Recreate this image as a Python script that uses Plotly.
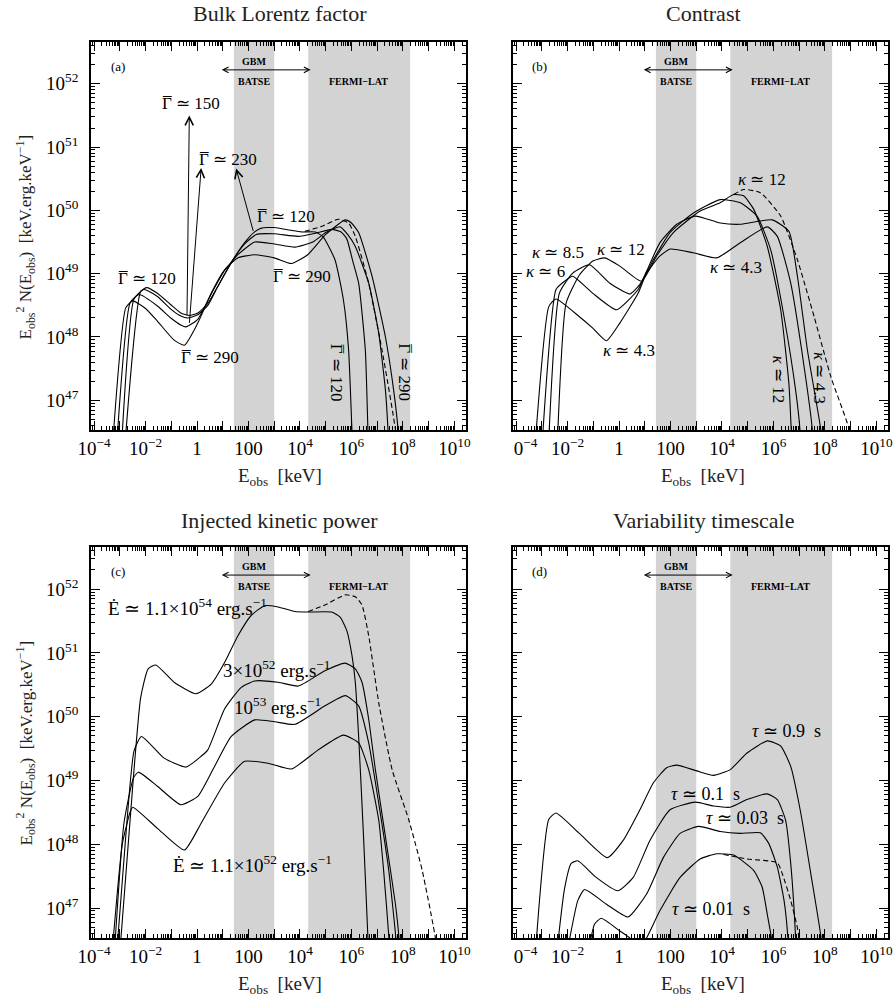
import numpy as np
import plotly.graph_objs as go

FONT = "Liberation Serif"

# every curve is given as log10(E_obs / keV) and log10(E^2 N(E) / keV.erg.keV^-1)

# (a) bulk Lorentz factor
gam120_x = [-2.80, -2.19, -1.95, -1.54, -1.02, -0.63, -0.30, 0.03, 0.42, 0.81, 1.33, 1.85, 2.24, 2.50, 3.0, 3.6, 4.06, 4.6, 4.9, 5.36, 5.69, 5.89, 6.02, 6.05]
gam120_y = [46.3, 48.72, 48.78, 48.69, 48.51, 48.38, 48.34, 48.38, 48.53, 48.80, 49.17, 49.49, 49.66, 49.72, 49.73, 49.69, 49.66, 49.66, 49.58, 49.22, 48.58, 47.79, 46.53, 46.3]
gam150_x = [-2.93, -2.45, -2.06, -1.54, -1.02, -0.63, -0.36, 0.03, 0.42, 0.81, 1.33, 1.85, 2.30, 3.0, 3.93, 4.6, 5.23, 5.6, 5.82, 6.05, 6.28, 6.54, 6.64, 6.66]
gam150_y = [46.3, 48.60, 48.75, 48.64, 48.44, 48.33, 48.30, 48.35, 48.50, 48.80, 49.18, 49.47, 49.62, 49.63, 49.59, 49.64, 49.70, 49.66, 49.55, 49.2, 48.85, 47.79, 46.53, 46.3]
gam230_x = [-3.12, -2.60, -2.25, -1.54, -1.02, -0.63, -0.43, 0.03, 0.55, 1.07, 1.59, 2.24, 3.0, 3.80, 4.5, 5.0, 5.56, 5.85, 6.15, 6.67, 7.06, 7.32, 7.42, 7.44]
gam230_y = [46.3, 48.54, 48.67, 48.49, 48.30, 48.19, 48.16, 48.28, 48.68, 49.05, 49.30, 49.50, 49.47, 49.42, 49.50, 49.65, 49.74, 49.62, 49.43, 48.85, 48.06, 47.16, 46.53, 46.3]
gam290_x = [-3.28, -2.77, -2.5, -2.0, -1.54, -0.89, -0.49, 0.03, 0.55, 1.07, 1.59, 2.24, 3.0, 3.67, 4.3, 5.0, 5.76, 6.0, 6.28, 6.80, 7.32, 7.64, 7.81, 7.83]
gam290_y = [46.3, 48.46, 48.57, 48.45, 48.25, 47.95, 47.87, 48.22, 48.69, 49.06, 49.25, 49.30, 49.25, 49.16, 49.30, 49.62, 49.85, 49.80, 49.65, 48.96, 48.0, 47.16, 46.53, 46.3]
gam_dash_x = [4.19, 4.8, 5.49, 5.89, 6.15, 6.67, 7.19, 7.71, 7.73]
gam_dash_y = [49.67, 49.74, 49.86, 49.80, 49.59, 48.85, 47.79, 46.53, 46.3]

# (b) contrast
kap43_x = [-3.26, -2.73, -2.45, -1.54, -1.02, -0.49, 0.03, 0.74, 1.07, 1.59, 1.98, 2.89, 3.80, 4.71, 5.76, 6.15, 6.67, 7.19, 7.51, 7.53]
kap43_y = [46.3, 48.48, 48.60, 48.32, 48.14, 47.94, 48.22, 48.69, 49.01, 49.28, 49.39, 49.33, 49.25, 49.49, 49.74, 49.59, 48.85, 47.53, 46.53, 46.3]
kap6_x = [-2.99, -2.45, -2.12, -1.80, -1.02, -0.10, 0.74, 1.07, 1.59, 2.24, 2.96, 3.93, 4.71, 5.95, 6.60, 6.93, 7.32, 7.84, 7.87]
kap6_y = [46.3, 48.75, 48.88, 48.96, 48.69, 48.43, 48.75, 49.04, 49.49, 49.78, 49.91, 49.80, 49.78, 49.85, 49.67, 48.96, 47.79, 46.53, 46.3]
kap85_x = [-2.74, -2.32, -1.80, -1.15, -0.36, 0.42, 0.81, 1.33, 1.98, 2.89, 3.93, 4.71, 5.36, 5.89, 6.41, 6.86, 7.03, 7.05]
kap85_y = [46.3, 48.69, 49.01, 49.14, 48.85, 48.68, 48.83, 49.22, 49.65, 49.96, 50.17, 50.12, 49.91, 49.38, 48.32, 47.16, 46.53, 46.3]
kap12_x = [-2.40, -2.06, -1.54, -1.02, -0.56, 0.03, 0.87, 1.46, 2.11, 3.15, 3.93, 4.45, 4.84, 5.23, 5.76, 6.28, 6.60, 6.69, 6.71]
kap12_y = [46.3, 48.53, 48.98, 49.20, 49.25, 49.12, 48.88, 49.28, 49.65, 49.99, 50.12, 50.25, 50.23, 50.02, 49.43, 48.43, 47.26, 46.53, 46.3]
kap_dash_x = [4.45, 4.84, 5.49, 6.28, 6.93, 7.58, 8.23, 8.95, 8.98]
kap_dash_y = [50.25, 50.33, 50.28, 49.91, 49.22, 48.32, 47.37, 46.53, 46.3]

# (c) injected kinetic power
edot54_x = [-3.0, -2.47, -2.19, -1.90, -1.60, -0.89, -0.04, 0.55, 1.07, 1.59, 2.11, 2.63, 3.15, 3.80, 4.32, 5.23, 5.56, 5.82, 6.02, 6.15, 6.28, 6.47, 6.64, 6.66]
edot54_y = [46.3, 49.06, 50.30, 50.75, 50.81, 50.54, 50.36, 50.51, 50.85, 51.27, 51.59, 51.74, 51.72, 51.65, 51.64, 51.64, 51.56, 51.35, 50.96, 50.54, 49.69, 48.12, 46.53, 46.3]
edot54_dash_x = [4.32, 4.97, 5.76, 6.15, 6.41, 6.67, 7.06, 7.58, 8.23, 8.75, 9.27, 9.30]
edot54_dash_y = [51.65, 51.75, 51.91, 51.88, 51.75, 51.27, 50.22, 49.17, 48.38, 47.59, 46.51, 46.3]
edot3e52_x = [-3.12, -2.77, -2.45, -2.16, -1.28, -0.43, 0.16, 0.42, 1.07, 1.72, 2.24, 3.15, 3.93, 4.97, 5.76, 6.15, 6.41, 6.67, 6.93, 7.32, 7.71, 7.85, 7.87]
edot3e52_y = [46.3, 48.12, 49.46, 49.69, 49.35, 49.21, 49.38, 49.48, 50.12, 50.46, 50.56, 50.54, 50.48, 50.72, 50.84, 50.75, 50.54, 49.96, 49.17, 48.12, 47.06, 46.51, 46.3]
edot53_x = [-3.21, -2.84, -2.47, -2.28, -1.54, -0.63, 0.03, 0.68, 1.33, 2.24, 3.02, 3.80, 4.97, 5.76, 6.28, 6.67, 7.06, 7.45, 7.73, 7.75]
edot53_y = [46.3, 48.33, 49.04, 49.13, 48.91, 48.62, 48.75, 49.22, 49.69, 49.95, 49.92, 49.88, 50.17, 50.33, 50.17, 49.59, 48.64, 47.59, 46.51, 46.3]
edot52_x = [-3.30, -2.90, -2.58, -2.49, -1.54, -0.49, 0.16, 1.07, 1.85, 2.76, 3.67, 4.71, 5.69, 6.28, 6.67, 7.06, 7.25, 7.46, 7.48]
edot52_y = [46.3, 48.01, 48.53, 48.58, 48.25, 47.91, 48.33, 48.96, 49.30, 49.27, 49.18, 49.48, 49.71, 49.59, 49.17, 48.38, 47.59, 46.51, 46.3]

# (d) variability timescale
tau09_x = [-3.25, -2.73, -2.45, -1.54, -0.46, 0.16, 0.81, 1.33, 1.85, 2.24, 3.02, 3.67, 4.32, 4.97, 5.76, 6.28, 6.67, 7.06, 7.45, 7.85, 7.87]
tau09_y = [46.3, 48.39, 48.49, 48.17, 47.79, 48.06, 48.54, 48.96, 49.20, 49.24, 49.15, 49.08, 49.17, 49.43, 49.62, 49.54, 49.22, 48.49, 47.54, 46.53, 46.3]
tau01_x = [-2.42, -2.12, -1.86, -1.60, -0.89, -0.04, 0.55, 1.20, 1.98, 2.96, 3.67, 4.32, 4.97, 5.76, 6.15, 6.47, 6.67, 6.86, 6.88]
tau01_y = [46.3, 47.30, 47.70, 47.74, 47.48, 47.27, 47.48, 48.06, 48.54, 48.66, 48.60, 48.58, 48.70, 48.79, 48.70, 48.38, 47.70, 46.53, 46.3]
tau003_x = [-2.02, -1.60, -1.34, -0.49, 0.35, 1.07, 1.72, 2.37, 3.09, 3.93, 4.71, 5.49, 5.82, 6.15, 6.41, 6.56, 6.58]
tau003_y = [46.3, 47.12, 47.29, 47.06, 46.86, 47.22, 47.79, 48.17, 48.28, 48.20, 48.17, 48.18, 48.01, 47.64, 47.12, 46.53, 46.3]
tau001_x = [-1.20, -0.95, -0.69, 0.03, 0.42, 0.65, 0.85, 1.07, 1.59, 2.37, 3.15, 3.80, 4.45, 5.23, 5.56, 5.76, 5.92, 5.94]
tau001_y = [46.3, 46.75, 46.84, 46.64, 46.53, 46.4, 46.4, 46.53, 46.96, 47.48, 47.77, 47.85, 47.83, 47.59, 47.33, 46.90, 46.53, 46.3]
tau_dash_x = [4.06, 4.97, 6.15, 6.34, 6.67, 6.93, 6.99, 7.01]
tau_dash_y = [47.84, 47.77, 47.71, 47.54, 47.12, 46.69, 46.53, 46.3]

# instrument windows [keV]
batse_band = [27, 1000]
lat_band = [2.1e4, 1.9e8]
gbm_range = [8, 2.6e4]

x_ticklabels = ["10<sup>\u22124</sup>", "", "10<sup>\u22122</sup>", "", "1", "", "100", "",
                "10<sup>4</sup>", "", "10<sup>6</sup>", "", "10<sup>8</sup>", "", "10<sup>10</sup>"]
x_ticklabels_right = ["\u2002\u20020<sup>\u22124</sup>"] + x_ticklabels[1:]
y_ticklabels = ["10<sup>47</sup>", "10<sup>48</sup>", "10<sup>49</sup>", "10<sup>50</sup>", "10<sup>51</sup>", "10<sup>52</sup>"]

XRANGE = [-4.12, 10.45]
YRANGE = [46.53, 52.66]

x_major = [10.0 ** k for k in range(-4, 11)]
x_minor = [m * 10.0 ** k for k in range(-5, 11) for m in range(2, 10)]
y_major = [10.0 ** k for k in range(47, 53)]
y_minor = [m * 10.0 ** k for k in range(46, 53) for m in range(2, 10)]


def curve(x, y, n, dash="solid"):
    return go.Scatter(x=10 ** np.array(x), y=10 ** np.array(y), mode="lines",
                      line=dict(color="black", width=1.1, dash=dash, shape="spline", smoothing=0.5),
                      xaxis="x" + n, yaxis="y" + n, showlegend=False, hoverinfo="skip")


def band(lim, n):
    return go.Scatter(x=[lim[0], lim[1], lim[1], lim[0], lim[0]], y=[1e45, 1e45, 1e54, 1e54, 1e45],
                      fill="toself", fillcolor="#d3d3d3", mode="lines", line=dict(width=0),
                      xaxis="x" + n, yaxis="y" + n, showlegend=False, hoverinfo="skip")


def x_axis(domain, anchor, ticktext):
    return dict(type="log", range=XRANGE, domain=domain, anchor=anchor, automargin=False,
                tickmode="array", tickvals=x_major, ticktext=ticktext,
                ticks="inside", ticklen=9, tickwidth=1, tickcolor="black",
                minor=dict(tickmode="array", tickvals=x_minor, ticks="inside", ticklen=4,
                           tickwidth=1, tickcolor="black", showgrid=False),
                showline=True, linewidth=1.8, linecolor="black", mirror="allticks",
                showgrid=False, zeroline=False,
                tickfont=dict(family=FONT, size=19, color="black"))


def y_axis(domain, anchor, labels=True):
    return dict(type="log", range=YRANGE, domain=domain, anchor=anchor, automargin=False,
                tickmode="array", tickvals=y_major, ticktext=y_ticklabels, showticklabels=labels,
                ticks="inside", ticklen=9, tickwidth=1, tickcolor="black", ticklabelstandoff=7,
                minor=dict(tickmode="array", tickvals=y_minor, ticks="inside", ticklen=4,
                           tickwidth=1, tickcolor="black", showgrid=False),
                showline=True, linewidth=1.8, linecolor="black", mirror="allticks",
                showgrid=False, zeroline=False,
                tickfont=dict(family=FONT, size=19, color="black"))


def text(t, x, y, n, size=17, angle=0, xanchor="center", yanchor="middle"):
    return dict(text=t, x=x, y=y, xref="x" + n, yref="y" + n, showarrow=False,
                textangle=angle, xanchor=xanchor, yanchor=yanchor,
                font=dict(family=FONT, size=size, color="black"))


def gamma_label(value, x, y, angle=0):
    # Gamma with a bar on top: the bar is a spacing macron drawn on the same spot
    if angle:
        return [text("\u0393 \u2243 " + value, x, y, "", angle=angle, yanchor="top"),
                text("\u00af", x, y, "", angle=angle, yanchor="top")]
    return [text("\u0393 \u2243 " + value, x, y, "", xanchor="left"),
            text("\u00af", x, y, "", xanchor="left")]


def arrow(x, y, ax, ay, n, size=1.6, both=False):
    return dict(text="", x=x, y=y, ax=ax, ay=ay, xref="x" + n, yref="y" + n,
                axref="x" + n, ayref="y" + n, showarrow=True, arrowhead=5,
                arrowsize=size, arrowwidth=1, arrowcolor="black",
                arrowside="end+start" if both else "end",
                startarrowhead=5, startarrowsize=size)


def paper_text(t, x, y, size=22, angle=0):
    return dict(text=t, x=x, y=y, xref="paper", yref="paper", showarrow=False,
                textangle=angle, xanchor="center", yanchor="middle",
                font=dict(family=FONT, size=size, color="#222"))


panels = {
    "": [(gam120_x, gam120_y), (gam150_x, gam150_y), (gam230_x, gam230_y), (gam290_x, gam290_y)],
    "2": [(kap43_x, kap43_y), (kap6_x, kap6_y), (kap85_x, kap85_y), (kap12_x, kap12_y)],
    "3": [(edot54_x, edot54_y), (edot3e52_x, edot3e52_y), (edot53_x, edot53_y), (edot52_x, edot52_y)],
    "4": [(tau09_x, tau09_y), (tau01_x, tau01_y), (tau003_x, tau003_y), (tau001_x, tau001_y)],
}
dashed = {"": (gam_dash_x, gam_dash_y), "2": (kap_dash_x, kap_dash_y),
          "3": (edot54_dash_x, edot54_dash_y), "4": (tau_dash_x, tau_dash_y)}

traces = []
for n in panels:
    traces.append(band(batse_band, n))
    traces.append(band(lat_band, n))
for n in panels:
    for cx, cy in panels[n]:
        traces.append(curve(cx, cy, n))
    traces.append(curve(dashed[n][0], dashed[n][1], n, dash="5px,3px"))

annotations = []
for n, letter in zip(["", "2", "3", "4"], ["(a)", "(b)", "(c)", "(d)"]):
    annotations.append(text(letter, -3.09, 52.27, n, size=13))
    annotations.append(text("<b>GBM</b>", 2.23, 52.35, n, size=10))
    annotations.append(text("<b>BATSE</b>", 2.23, 52.04, n, size=10))
    annotations.append(text("<b>FERMI\u2212LAT</b>", 6.29, 52.04, n, size=10))
    annotations.append(arrow(np.log10(gbm_range[1]), 52.22, np.log10(gbm_range[0]), 52.22, n, size=1.1, both=True))

# (a)
annotations += gamma_label("150", -1.45, 51.69)
annotations += gamma_label("230", -0.01, 50.80)
annotations += gamma_label("120", 2.24, 49.90)
annotations += gamma_label("290", 2.89, 48.96)
annotations += gamma_label("120", -3.16, 48.93)
annotations += gamma_label("290", -0.69, 47.67)
annotations += gamma_label("120", 5.43, 47.93, angle=90)
annotations += gamma_label("290", 8.05, 47.93, angle=90)
annotations += [
    arrow(-0.30, 51.50, -0.39, 48.32, ""),
    arrow(0.16, 50.67, -0.30, 48.20, ""),
    arrow(1.52, 50.66, 2.20, 49.65, ""),
]
# (b)
annotations += [
    text("<i>\u03ba</i> \u2243 12", 5.56, 50.49, "2"),
    text("<i>\u03ba</i> \u2243 8.5", -2.38, 49.33, "2"),
    text("<i>\u03ba</i> \u2243 6", -2.84, 49.04, "2"),
    text("<i>\u03ba</i> \u2243 12", 0.09, 49.38, "2"),
    text("<i>\u03ba</i> \u2243 4.3", 4.56, 49.09, "2"),
    text("<i>\u03ba</i> \u2243 4.3", 0.39, 47.79, "2"),
    text("<i>\u03ba</i> \u2243 12", 6.21, 47.33, "2", angle=90),
    text("<i>\u03ba</i> \u2243 4.3", 7.81, 47.35, "2", angle=90),
]
# (c)
annotations += [
    text("\u0116 \u2243 1.1\u00d710<sup>54</sup> erg.s<sup>\u22121</sup>", -3.55, 51.72, "3", size=19, xanchor="left"),
    text("3\u00d710<sup>52</sup> erg.s<sup>\u22121</sup>", 3.09, 50.75, "3", size=19),
    text("10<sup>53</sup> erg.s<sup>\u22121</sup>", 3.11, 50.17, "3", size=19),
    text("\u0116 \u2243 1.1\u00d710<sup>52</sup> erg.s<sup>\u22121</sup>", 2.17, 47.69, "3", size=19),
]
# (d)
annotations += [
    text("<i>\u03c4</i> \u2243 0.9  s", 6.51, 49.78, "4", size=18),
    text("<i>\u03c4</i> \u2243 0.1  s", 3.35, 48.78, "4", size=18),
    text("<i>\u03c4</i> \u2243 0.03  s", 4.91, 48.41, "4", size=18),
    text("<i>\u03c4</i> \u2243 0.01  s", 3.57, 46.98, "4", size=18),
]

ytitle = "E<sub>obs</sub><sup>2</sup> N(E<sub>obs</sub>)  [keV.erg.keV<sup>\u22121</sup>]"
xtitle = "E<sub>obs</sub>  [keV]"
annotations += [
    paper_text("Bulk Lorentz factor", 0.3135, 0.986),
    paper_text("Contrast", 0.7873, 0.986),
    paper_text("Injected kinetic power", 0.3135, 0.478),
    paper_text("Variability timescale", 0.7873, 0.478),
    paper_text(xtitle, 0.3135, 0.522, size=19),
    paper_text(xtitle, 0.7873, 0.522, size=19),
    paper_text(xtitle, 0.3135, 0.013, size=19),
    paper_text(xtitle, 0.7873, 0.013, size=19),
    paper_text(ytitle, 0.029, 0.763, size=17, angle=-90),
    paper_text(ytitle, 0.029, 0.256, size=17, angle=-90),
]

XL = [0.1019, 0.5218]
XR = [0.5745, 0.9944]
YT = [0.5691, 0.9579]
YB = [0.0601, 0.4519]

layout = go.Layout(
    width=893, height=998, autosize=False,
    margin=dict(l=0, r=0, t=0, b=0),
    paper_bgcolor="white", plot_bgcolor="white",
    showlegend=False,
    xaxis=x_axis(XL, "y", x_ticklabels), yaxis=y_axis(YT, "x"),
    xaxis2=x_axis(XR, "y2", x_ticklabels_right), yaxis2=y_axis(YT, "x2", labels=False),
    xaxis3=x_axis(XL, "y3", x_ticklabels), yaxis3=y_axis(YB, "x3"),
    xaxis4=x_axis(XR, "y4", x_ticklabels_right), yaxis4=y_axis(YB, "x4", labels=False),
    annotations=annotations,
)

fig = go.Figure(data=traces, layout=layout)
fig.write_html("out.html", config={"displayModeBar": False},
               post_script="document.body.style.margin='0px';")
